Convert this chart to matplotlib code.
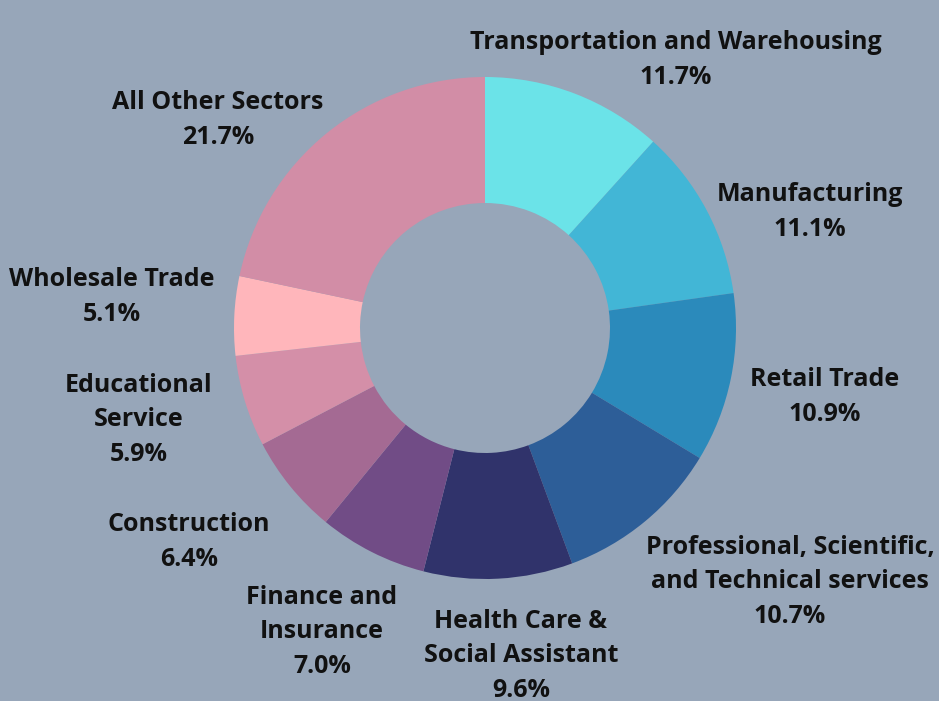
import matplotlib.pyplot as plt

sectors = ['Transportation and Warehousing', 'Manufacturing', 'Retail Trade',
           'Professional, Scientific,\nand Technical services',
           'Health Care &\nSocial Assistant', 'Finance and\nInsurance',
           'Construction', 'Educational\nService', 'Wholesale Trade',
           'All Other Sectors']
shares = [11.7, 11.1, 10.9, 10.7, 9.6, 7.0, 6.4, 5.9, 5.1, 21.7]
colors = ['#6BE3E8', '#42B6D6', '#2B8ABB', '#2D5E98', '#30336B',
          '#714C86', '#A46A93', '#D48FA8', '#FFB6BB', '#D28DA6']

bg = '#97A6B9'

# label block centres in pixel coords (y from top)
label_pos = [(676, 60), (810, 212), (825, 397), (790, 582), (521, 656),
             (322, 632), (189, 542), (139, 420), (112, 297), (218, 120)]

fig = plt.figure(figsize=(9.39, 7.01), dpi=100)
fig.patch.set_facecolor(bg)
ax = fig.add_axes([0, 0, 1, 1])
ax.set_facecolor(bg)

ax.pie(shares, colors=colors, startangle=90, counterclock=False,
       radius=251, center=(485, 701 - 328),
       wedgeprops=dict(width=126, linewidth=0))

for name, val, (x, y) in zip(sectors, shares, label_pos):
    ax.text(x, 701 - y, f'{name}\n{val:.1f}%', ha='center', va='center',
            fontsize=18, fontweight='bold', family='Open Sans',
            linespacing=1.5, color='#111111')

ax.set_xlim(0, 939)
ax.set_ylim(0, 701)
ax.set_aspect('equal')
ax.axis('off')

fig.savefig('out.png', dpi=100, facecolor=bg)
